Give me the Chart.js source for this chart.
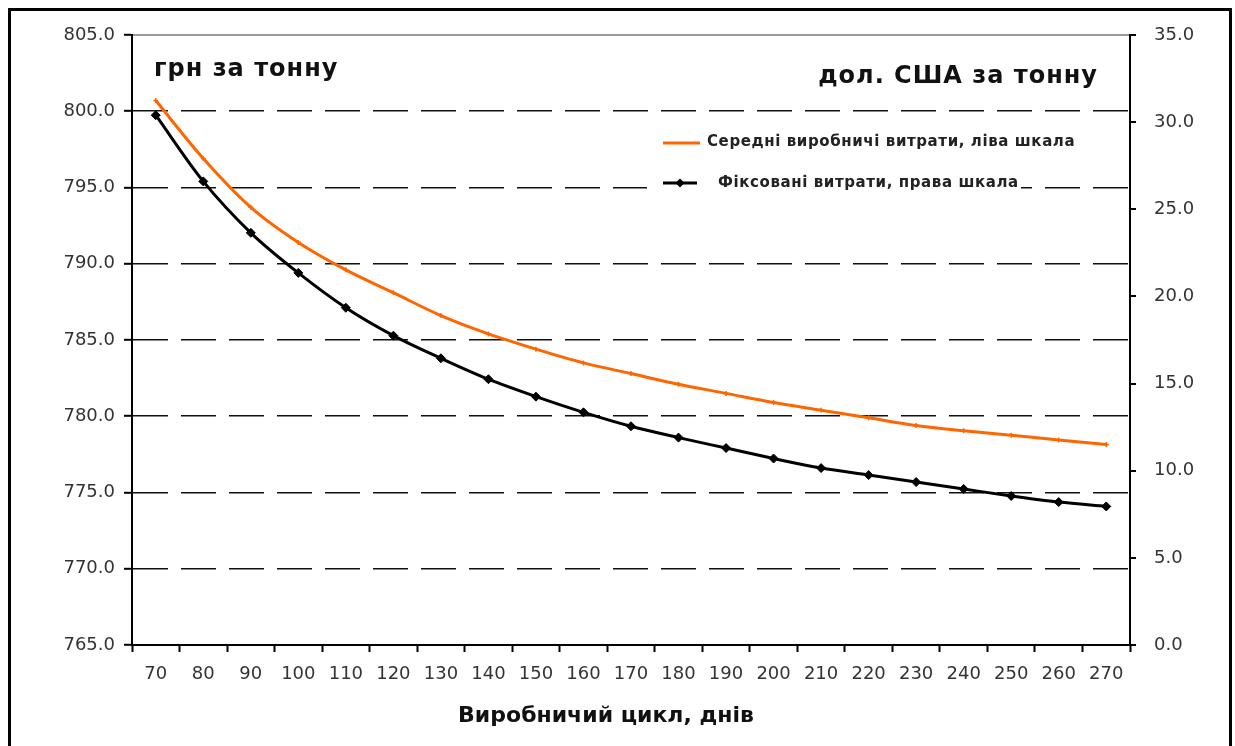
<!DOCTYPE html>
<html>
<head>
<meta charset="utf-8">
<script src="https://cdn.jsdelivr.net/npm/chart.js"></script>
<style>
  html, body { margin: 0; padding: 0; background: #fff; }
  #wrap { width: 1235px; height: 746px; position: relative; }
</style>
</head>
<body>
<div id="wrap"><canvas id="c" width="1235" height="746"></canvas></div>
<script>
const categories = [70, 80, 90, 100, 110, 120, 130, 140, 150, 160, 170, 180, 190, 200, 210, 220, 230, 240, 250, 260, 270];
const avgCostUAH = [800.7, 796.9, 793.7, 791.4, 789.6, 788.1, 786.6, 785.4, 784.4, 783.5, 782.8, 782.1, 781.5, 780.9, 780.4, 779.9, 779.4, 779.05, 778.75, 778.45, 778.15];
const fixedCostUSD = [30.4, 26.6, 23.65, 21.35, 19.35, 17.75, 16.45, 15.25, 14.25, 13.35, 12.55, 11.9, 11.3, 10.7, 10.15, 9.75, 9.35, 8.95, 8.55, 8.2, 7.95];
const leftTicks = { min: 765, max: 805, step: 5 };
const rightTicks = { min: 0, max: 35, step: 5 };
const seriesNames = ['Середні виробничі витрати, ліва шкала', 'Фіксовані витрати, права шкала'];
const leftTitle = 'грн за тонну';
const rightTitle = 'дол. США за тонну';
const xTitle = 'Виробничий цикл, днів';

const tickFont = { family: 'DejaVu Sans', size: 18 };
const tickColor = '#333';

const legendBox = {
  id: 'legendBox',
  beforeDatasetsDraw(chart) {
    const ctx = chart.ctx;
    ctx.save();
    ctx.fillStyle = '#fff';
    ctx.fillRect(647, 124, 374, 76);
    ctx.restore();
  }
};

const decor = {
  id: 'decor',
  afterDraw(chart) {
    const ctx = chart.ctx;
    ctx.save();
    // outer frame
    ctx.strokeStyle = '#000';
    ctx.lineWidth = 3;
    ctx.strokeRect(9.5, 9.5, 1221, 760);
    // titles
    ctx.fillStyle = '#111';
    ctx.font = 'bold 24px "DejaVu Sans"';
    try { ctx.letterSpacing = '1px'; } catch (e) {}
    ctx.textBaseline = 'alphabetic';
    ctx.textAlign = 'left';
    ctx.fillText(leftTitle, 154, 76);
    ctx.textAlign = 'right';
    ctx.fillText(rightTitle, 1098, 83);
    try { ctx.letterSpacing = '0px'; } catch (e) {}
    ctx.font = 'bold 22px "DejaVu Sans"';
    ctx.textAlign = 'center';
    ctx.fillText(xTitle, 606, 722);
    // legend
    const ds = chart.data.datasets;
    ctx.font = 'bold 15px "DejaVu Sans"';
    try { ctx.letterSpacing = '0.6px'; } catch (e) {}
    ctx.textAlign = 'left';
    ctx.textBaseline = 'middle';
    // item 1
    ctx.strokeStyle = ds[0].borderColor;
    ctx.lineWidth = 3;
    ctx.beginPath(); ctx.moveTo(663, 143); ctx.lineTo(700, 143); ctx.stroke();
    ctx.fillStyle = '#222';
    ctx.fillText(ds[0].label, 707, 142);
    // item 2
    ctx.strokeStyle = ds[1].borderColor;
    ctx.beginPath(); ctx.moveTo(663, 183); ctx.lineTo(697, 183); ctx.stroke();
    ctx.fillStyle = ds[1].pointBackgroundColor;
    ctx.beginPath();
    ctx.moveTo(680, 178.5); ctx.lineTo(684.5, 183); ctx.lineTo(680, 187.5); ctx.lineTo(675.5, 183); ctx.closePath();
    ctx.fill();
    ctx.fillStyle = '#222';
    ctx.fillText(ds[1].label, 718, 183);
    ctx.restore();
  }
};

new Chart(document.getElementById('c'), {
  type: 'line',
  data: {
    labels: categories,
    datasets: [
      {
        label: seriesNames[0],
        data: avgCostUAH,
        yAxisID: 'y',
        borderColor: '#FF6600',
        backgroundColor: '#FF6600',
        borderWidth: 3,
        pointStyle: 'cross',
        pointRadius: 2.5,
        pointBorderWidth: 1.5,
        pointBorderColor: '#FF6600',
        tension: 0.35,
        cubicInterpolationMode: 'monotone',
        fill: false
      },
      {
        label: seriesNames[1],
        data: fixedCostUSD,
        yAxisID: 'y1',
        borderColor: '#000',
        backgroundColor: '#000',
        borderWidth: 3,
        pointStyle: 'rectRot',
        pointRadius: 4.5,
        pointBackgroundColor: '#000',
        pointBorderColor: '#000',
        pointBorderWidth: 1,
        tension: 0.35,
        cubicInterpolationMode: 'monotone',
        fill: false
      }
    ]
  },
  options: {
    responsive: false,
    animation: false,
    events: [],
    layout: { padding: { left: 0, right: 0, top: 35, bottom: 0 } },
    plugins: {
      legend: { display: false },
      tooltip: { enabled: false },
      title: { display: false }
    },
    scales: {
      x: {
        type: 'category',
        offset: true,
        grid: {
          offset: true,
          drawOnChartArea: false,
          color: 'rgba(0,0,0,0)',
          tickColor: '#000',
          tickLength: 7,
          tickWidth: 2
        },
        border: { color: '#000', width: 2 },
        ticks: { font: tickFont, color: tickColor, padding: 12, maxRotation: 0, autoSkip: false },
        afterFit: s => { s.height = 101; }
      },
      y: {
        position: 'left',
        min: leftTicks.min,
        max: leftTicks.max,
        ticks: {
          stepSize: leftTicks.step,
          font: tickFont,
          color: tickColor,
          padding: 9,
          callback: v => Number(v).toFixed(1)
        },
        grid: {
          color: c => (c.tick && (c.tick.value === leftTicks.max || c.tick.value === leftTicks.min)) ? 'rgba(0,0,0,0)' : '#111',
          lineWidth: 1.6,
          tickColor: '#000',
          tickLength: 8,
          tickWidth: 2,
          borderDash: [35, 13]
        },
        border: { color: '#000', width: 2, dash: [35, 13] },
        afterFit: s => { s.width = 132; }
      },
      y1: {
        position: 'right',
        min: rightTicks.min,
        max: rightTicks.max,
        ticks: {
          stepSize: rightTicks.step,
          font: tickFont,
          color: tickColor,
          padding: 18,
          callback: v => Number(v).toFixed(1)
        },
        grid: {
          drawOnChartArea: true,
          color: c => (c.tick && c.tick.value === rightTicks.max) ? '#999' : 'rgba(0,0,0,0)',
          lineWidth: 2,
          tickColor: '#000',
          tickLength: 6,
          tickWidth: 2
        },
        border: { color: '#000', width: 2 },
        afterFit: s => { s.width = 105; }
      }
    }
  },
  plugins: [legendBox, decor]
});
</script>
</body>
</html>
